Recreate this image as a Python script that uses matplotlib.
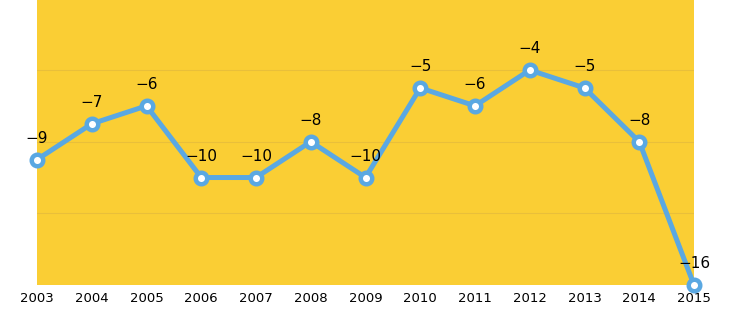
import matplotlib.pyplot as plt

years = [2003, 2004, 2005, 2006, 2007, 2008, 2009, 2010, 2011, 2012, 2013, 2014, 2015]
values = [-9, -7, -6, -10, -10, -8, -10, -5, -6, -4, -5, -8, -16]

yellow = "#FACE34"
blue = "#5AA8E2"

fig = plt.figure(figsize=(7.3, 3.25), dpi=100)
ax = fig.add_axes([37 / 730, 40 / 325, 657 / 730, 285 / 325])
ax.set_facecolor(yellow)

for y in [-12, -8, -4]:
    ax.axhline(y, color="#E9BF3A", linewidth=0.8, zorder=1)

ax.plot(years, values, color=blue, linewidth=3.6, marker="o", markersize=8.3,
        markerfacecolor="white", markeredgecolor=blue, markeredgewidth=3.2,
        zorder=3, clip_on=False)

for x, v in zip(years, values):
    ax.annotate(f"\u2212{abs(v)}", (x, v), xytext=(0, 10), textcoords="offset points",
                ha="center", va="bottom", fontsize=11, color="black", zorder=4)

ax.set_xlim(years[0], years[-1])
ax.set_ylim(-16, -0.09)
ax.set_xticks(years)
ax.set_xticklabels([str(y) for y in years], fontsize=9.5)
ax.set_yticks([])
ax.tick_params(axis="x", length=0, pad=5)
for s in ax.spines.values():
    s.set_visible(False)

fig.savefig("out.png", dpi=100)
